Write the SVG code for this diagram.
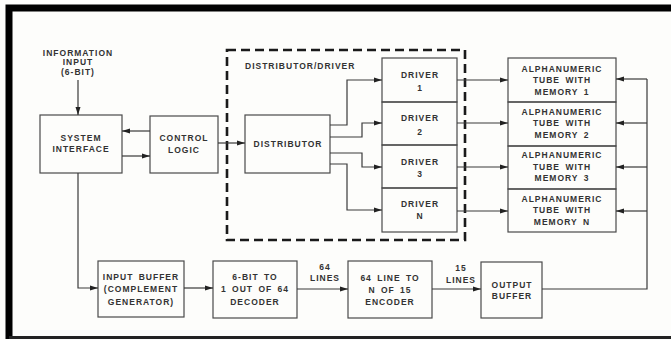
<svg xmlns="http://www.w3.org/2000/svg" width="671" height="340" viewBox="0 0 671 340">
<defs>
<style>
.box{fill:none;stroke:#4a4a4a;stroke-width:1.2}
.ln{fill:none;stroke:#3a3a3a;stroke-width:1.2}
.t{font-family:"Liberation Sans",Arial,sans-serif;font-weight:bold;font-size:8.5px;letter-spacing:1px;word-spacing:2px;fill:#333;text-anchor:middle}
.dash{fill:none;stroke:#1a1a1a;stroke-width:2.6;stroke-dasharray:9 5}
</style>
<marker id="ah" markerWidth="8" markerHeight="6" refX="8" refY="3" orient="auto" markerUnits="userSpaceOnUse">
<path d="M0,0.5 L8,3 L0,5.5 Z" fill="#222"/>
</marker>
</defs>
<rect x="0" y="0" width="671" height="340" fill="#fdfdfb"/>
<path d="M671,8 H9 V339" fill="none" stroke="#000" stroke-width="7"/>
<path d="M9,337.5 H671" stroke="#222" stroke-width="3"/>

<g id="info-input">
<text class="t" x="78" y="56">INFORMATION</text>
<text class="t" x="78" y="65">INPUT</text>
<text class="t" x="78" y="75">(6-BIT)</text>
</g>

<g id="system-interface">
<rect class="box" x="40" y="115" width="82" height="58"/>
<text class="t" x="81" y="141">SYSTEM</text>
<text class="t" x="81" y="152">INTERFACE</text>
</g>

<g id="control-logic">
<rect class="box" x="150" y="116" width="68" height="57"/>
<text class="t" x="184" y="141">CONTROL</text>
<text class="t" x="184" y="153">LOGIC</text>
</g>

<g id="distributor-driver">
<rect class="dash" x="227" y="50" width="238" height="190"/>
<text class="t" x="245" y="69" style="text-anchor:start">DISTRIBUTOR/DRIVER</text>
</g>

<g id="distributor">
<rect class="box" x="245" y="115" width="85" height="58"/>
<text class="t" x="288" y="147">DISTRIBUTOR</text>
</g>

<g id="driver-1">
<rect class="box" x="382" y="58" width="75" height="44"/>
<text class="t" x="420" y="78">DRIVER</text>
<text class="t" x="420" y="91">1</text>
</g>
<g id="driver-2">
<rect class="box" x="382" y="102" width="75" height="43"/>
<text class="t" x="420" y="121">DRIVER</text>
<text class="t" x="420" y="135">2</text>
</g>
<g id="driver-3">
<rect class="box" x="382" y="145" width="75" height="43"/>
<text class="t" x="420" y="165">DRIVER</text>
<text class="t" x="420" y="177">3</text>
</g>
<g id="driver-n">
<rect class="box" x="382" y="188" width="75" height="44"/>
<text class="t" x="420" y="207">DRIVER</text>
<text class="t" x="420" y="219">N</text>
</g>

<g id="tube-1">
<rect class="box" x="508" y="58" width="108" height="44"/>
<text class="t" x="562" y="72">ALPHANUMERIC</text>
<text class="t" x="562" y="83">TUBE WITH</text>
<text class="t" x="562" y="95">MEMORY 1</text>
</g>
<g id="tube-2">
<rect class="box" x="508" y="102" width="108" height="44"/>
<text class="t" x="562" y="115">ALPHANUMERIC</text>
<text class="t" x="562" y="126">TUBE WITH</text>
<text class="t" x="562" y="138">MEMORY 2</text>
</g>
<g id="tube-3">
<rect class="box" x="508" y="146" width="108" height="43"/>
<text class="t" x="562" y="158">ALPHANUMERIC</text>
<text class="t" x="562" y="170">TUBE WITH</text>
<text class="t" x="562" y="181">MEMORY 3</text>
</g>
<g id="tube-n">
<rect class="box" x="508" y="189" width="108" height="43"/>
<text class="t" x="562" y="202">ALPHANUMERIC</text>
<text class="t" x="562" y="213">TUBE WITH</text>
<text class="t" x="562" y="225">MEMORY N</text>
</g>

<g id="input-buffer">
<rect class="box" x="98" y="261" width="86" height="56"/>
<text class="t" x="141" y="280">INPUT BUFFER</text>
<text class="t" x="141" y="292">(COMPLEMENT</text>
<text class="t" x="141" y="305">GENERATOR)</text>
</g>

<g id="decoder">
<rect class="box" x="213" y="261" width="84" height="57"/>
<text class="t" x="255" y="280">6-BIT TO</text>
<text class="t" x="255" y="292">1 OUT OF 64</text>
<text class="t" x="255" y="305">DECODER</text>
</g>

<g id="encoder">
<rect class="box" x="348" y="261" width="84" height="57"/>
<text class="t" x="390" y="281">64 LINE TO</text>
<text class="t" x="390" y="293">N OF 15</text>
<text class="t" x="390" y="305">ENCODER</text>
</g>

<g id="output-buffer">
<rect class="box" x="481" y="262" width="61" height="56"/>
<text class="t" x="512" y="288">OUTPUT</text>
<text class="t" x="512" y="299">BUFFER</text>
</g>

<g id="labels">
<text class="t" x="325" y="270">64</text>
<text class="t" x="325" y="281">LINES</text>
<text class="t" x="461" y="271">15</text>
<text class="t" x="461" y="283">LINES</text>
</g>

<g id="connectors">
<path class="ln" d="M78,80 V115" marker-end="url(#ah)"/>
<path class="ln" d="M150,131 H122" marker-end="url(#ah)"/>
<path class="ln" d="M122,156 H150" marker-end="url(#ah)"/>
<path class="ln" d="M218,143 H245" marker-end="url(#ah)"/>
<path class="ln" d="M330,125 H347 V80 H382" marker-end="url(#ah)"/>
<path class="ln" d="M330,137 H362 V123 H382" marker-end="url(#ah)"/>
<path class="ln" d="M330,153 H362 V167 H382" marker-end="url(#ah)"/>
<path class="ln" d="M330,164 H347 V210 H382" marker-end="url(#ah)"/>
<path class="ln" d="M457,80 H508" marker-end="url(#ah)"/>
<path class="ln" d="M457,123 H508" marker-end="url(#ah)"/>
<path class="ln" d="M457,167 H508" marker-end="url(#ah)"/>
<path class="ln" d="M457,211 H508" marker-end="url(#ah)"/>
<path class="ln" d="M542,289 H647 V79"/>
<path class="ln" d="M647,79 H616" marker-end="url(#ah)"/>
<path class="ln" d="M647,123 H616" marker-end="url(#ah)"/>
<path class="ln" d="M647,167 H616" marker-end="url(#ah)"/>
<path class="ln" d="M647,211 H616" marker-end="url(#ah)"/>
<path class="ln" d="M78,173 V288 H98" marker-end="url(#ah)"/>
<path class="ln" d="M184,288 H213" marker-end="url(#ah)"/>
<path class="ln" d="M297,289 H348" marker-end="url(#ah)"/>
<path class="ln" d="M432,289 H481" marker-end="url(#ah)"/>
</g>
</svg>
